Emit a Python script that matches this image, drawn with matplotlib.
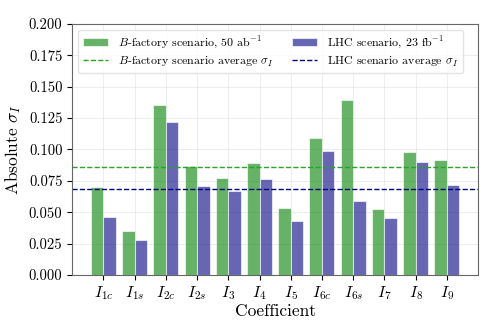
import numpy as np
import matplotlib
matplotlib.use('Agg')
import matplotlib.pyplot as plt

# values
coeffs = ['1c', '1s', '2c', '2s', '3', '4', '5', '6c', '6s', '7', '8', '9']
sigma_bfactory = [0.0701, 0.0350, 0.1350, 0.0866, 0.0770, 0.0890, 0.0531,
                  0.1090, 0.1394, 0.0523, 0.0977, 0.0914]
sigma_lhc = [0.0460, 0.0276, 0.1220, 0.0707, 0.0667, 0.0765, 0.0428,
             0.0988, 0.0590, 0.0457, 0.0898, 0.0717]

plt.rcParams.update({'font.family': 'serif', 'font.serif': ['cmr10', 'DejaVu Serif'],
                     'mathtext.fontset': 'cm', 'axes.formatter.use_mathtext': True,
                     'font.size': 10})

fig, ax = plt.subplots(figsize=(4.98, 3.32), dpi=100)
fig.subplots_adjust(left=0.145, right=0.96, top=0.928, bottom=0.172)

x = np.arange(len(coeffs))
w = 0.4
b1 = ax.bar(x - w / 2, sigma_bfactory, w, color='green', alpha=0.6,
            edgecolor='white', linewidth=0.8, label=r'$B$-factory scenario, 50 ab$^{-1}$')
b2 = ax.bar(x + w / 2, sigma_lhc, w, color='navy', alpha=0.6,
            edgecolor='white', linewidth=0.8, label=r'LHC scenario, 23 fb$^{-1}$')
l1 = ax.axhline(np.mean(sigma_bfactory), color='#2ca02c', ls='--', lw=1,
                label=r'$B$-factory scenario average $\sigma_I$')
l2 = ax.axhline(np.mean(sigma_lhc), color='navy', ls='--', lw=1,
                label=r'LHC scenario average $\sigma_I$')

ax.set_xlim(-1, 12)
ax.set_ylim(0, 0.2)
ax.set_yticks(np.arange(0, 0.201, 0.025))
ax.set_yticklabels([f'{v:.3f}' for v in np.arange(0, 0.201, 0.025)])
ax.set_xticks(x)
ax.set_xticklabels([rf'$I_{{{c}}}$' for c in coeffs], fontsize=11.5)
ax.tick_params(axis='y', labelsize=10.5)
ax.grid(True, color='#dddddd', lw=0.6, alpha=0.6)
ax.set_axisbelow(True)
for s in ax.spines.values():
    s.set_color('#666666')

ax.set_xlabel('Coefficient', fontsize=12.5, labelpad=1)
ax.set_ylabel(r'Absolute $\sigma_I$', fontsize=12.5)
ax.legend(handles=[b1, l1, b2, l2], ncol=2, loc='upper left', fontsize=8.6,
          framealpha=0.8, edgecolor='#dddddd', columnspacing=1.6,
          handlelength=2.1, labelspacing=0.3, bbox_to_anchor=(0.0, 1.0))

plt.savefig('out.png', dpi=100)
